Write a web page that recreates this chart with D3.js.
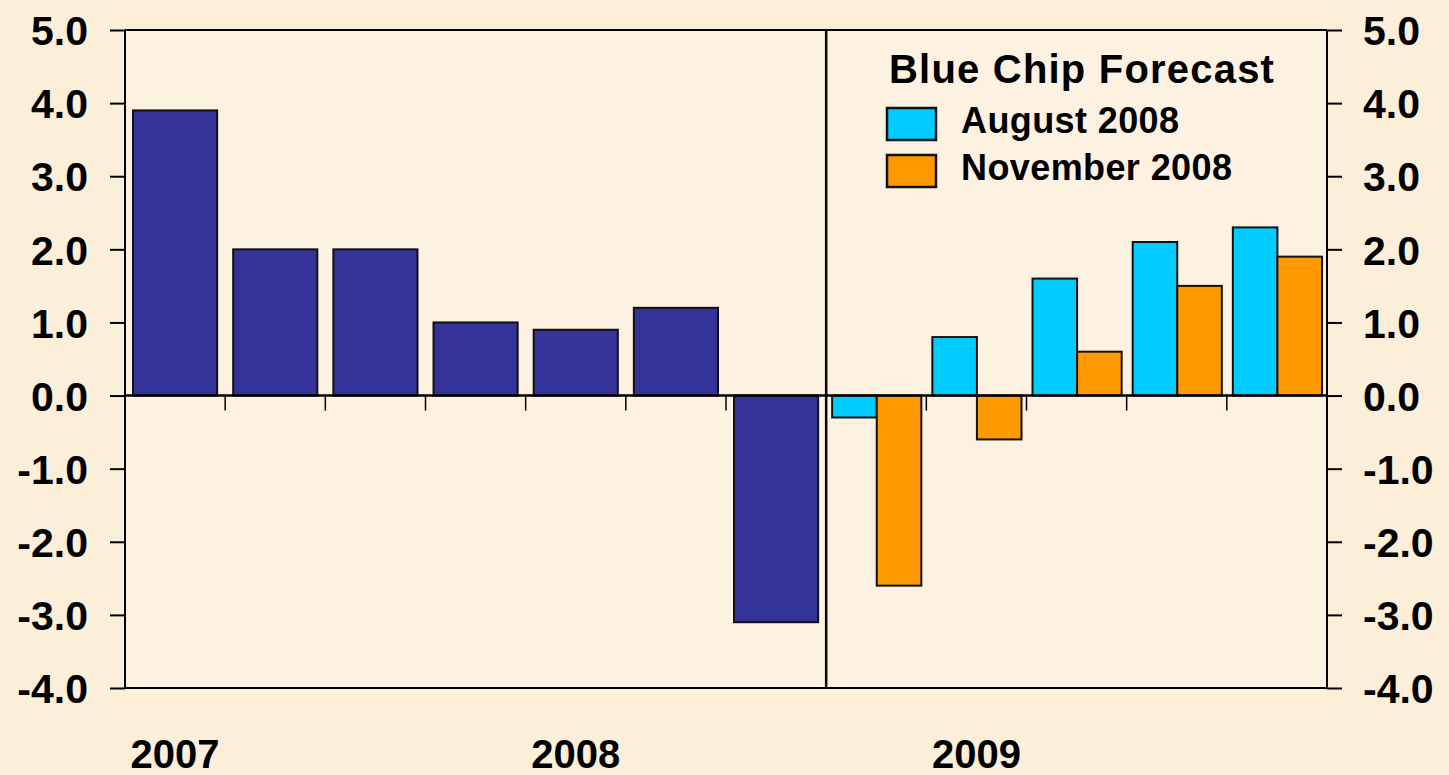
<!DOCTYPE html>
<html>
<head>
<meta charset="utf-8">
<script src="https://cdn.jsdelivr.net/npm/d3@7"></script>
<style>
  html, body { margin: 0; padding: 0; background: #FBEFD9; }
  svg { display: block; }
  text { font-family: "Liberation Sans", Arial, sans-serif; font-weight: bold; fill: #000; }
</style>
</head>
<body>
<svg id="chart" width="1449" height="775"></svg>
<script>
// Real GDP growth by quarter, actual and Blue Chip consensus forecasts
const quarters = ["2007Q1","2007Q2","2007Q3","2007Q4","2008Q1","2008Q2","2008Q3","2008Q4","2009Q1","2009Q2","2009Q3","2009Q4"];
const actualQuarters = ["2007Q1","2007Q2","2007Q3","2007Q4","2008Q1","2008Q2","2008Q3"];
const actualValues = [3.9, 2.0, 2.0, 1.0, 0.9, 1.2, -3.1];
const forecastQuarters = ["2008Q4","2009Q1","2009Q2","2009Q3","2009Q4"];
const august2008 = [-0.3, 0.8, 1.6, 2.1, 2.3];
const november2008 = [-2.6, -0.6, 0.6, 1.5, 1.9];
const yTicks = [5, 4, 3, 2, 1, 0, -1, -2, -3, -4];
const yearLabels = [{q: "2007Q1", label: "2007"}, {q: "2008Q1", label: "2008"}, {q: "2009Q1", label: "2009"}];
const legendTitle = "Blue Chip Forecast";
const seriesNames = ["August 2008", "November 2008"];
const seriesColors = ["#00CCFF", "#FF9900"];
const actualColor = "#333399";

const svg = d3.select("#chart");
const plotL = 125, plotR = 1327, plotT = 30, plotB = 688;

const x = d3.scaleBand().domain(quarters).range([plotL, plotR]).padding(0);
const xBar = d3.scaleBand().domain(quarters).range([plotL, plotR]).paddingInner(0.16).paddingOuter(0.08);
const step = x.step();
const xSub = d3.scaleBand().domain(seriesNames).range([step * 0.06, step * 0.95]).padding(0);
const y = d3.scaleLinear().domain([-4, 5]).range([plotB, plotT]);

// one decimal, plain hyphen for negatives
const fmt = d => d.toFixed(1);

// plot area fill
svg.append("rect").attr("x", plotL).attr("y", plotT).attr("width", plotR - plotL).attr("height", plotB - plotT)
  .attr("fill", "#FDF2E1");

// actual bars
svg.append("g").selectAll("rect").data(actualQuarters).join("rect")
  .attr("x", q => xBar(q))
  .attr("width", xBar.bandwidth())
  .attr("y", (q, i) => y(Math.max(0, actualValues[i])))
  .attr("height", (q, i) => Math.abs(y(actualValues[i]) - y(0)))
  .attr("fill", actualColor).attr("stroke", "#111").attr("stroke-width", 2);

// forecast bars
const fc = [august2008, november2008];
seriesNames.forEach((name, s) => {
  svg.append("g").selectAll("rect").data(forecastQuarters).join("rect")
    .attr("x", q => x(q) + xSub(name))
    .attr("width", xSub.bandwidth())
    .attr("y", (q, i) => y(Math.max(0, fc[s][i])))
    .attr("height", (q, i) => Math.abs(y(fc[s][i]) - y(0)))
    .attr("fill", seriesColors[s]).attr("stroke", "#111").attr("stroke-width", 2);
});

// zero line with category ticks
svg.append("line").attr("x1", plotL).attr("x2", plotR).attr("y1", y(0)).attr("y2", y(0))
  .attr("stroke", "#000").attr("stroke-width", 2.5);
svg.append("g").selectAll("line").data(quarters.slice(1)).join("line")
  .attr("x1", q => x(q)).attr("x2", q => x(q))
  .attr("y1", y(0)).attr("y2", y(0) + 15)
  .attr("stroke", "#000").attr("stroke-width", 1.5);

// divider between actual and forecast
svg.append("line").attr("x1", x("2008Q4")).attr("x2", x("2008Q4"))
  .attr("y1", plotT).attr("y2", plotB).attr("stroke", "#000").attr("stroke-width", 2.5);

// left and right axes
const leftAxis = d3.axisLeft(y).tickValues(yTicks).tickSize(15).tickFormat(fmt);
const rightAxis = d3.axisRight(y).tickValues(yTicks).tickSize(15).tickFormat(fmt);
const gl = svg.append("g").attr("transform", `translate(${plotL},0)`).call(leftAxis);
const gr = svg.append("g").attr("transform", `translate(${plotR},0)`).call(rightAxis);
[gl, gr].forEach(g => {
  g.select(".domain").remove();
  g.selectAll(".tick line").attr("stroke", "#000").attr("stroke-width", 2);
  g.selectAll(".tick text").attr("font-size", 41).attr("font-family", "Liberation Sans, Arial, sans-serif")
    .attr("font-weight", "bold").attr("fill", "#000").attr("dy", "0.36em");
});
gl.selectAll(".tick text").attr("x", -37);
gr.selectAll(".tick text").attr("x", 36);

svg.append("line").attr("x1", plotL).attr("x2", plotL).attr("y1", plotT).attr("y2", plotB).attr("stroke", "#000").attr("stroke-width", 2);
svg.append("line").attr("x1", plotR).attr("x2", plotR).attr("y1", plotT).attr("y2", plotB).attr("stroke", "#000").attr("stroke-width", 2);
svg.append("line").attr("x1", plotL).attr("x2", plotR).attr("y1", plotT).attr("y2", plotT).attr("stroke", "#000").attr("stroke-width", 2);
svg.append("line").attr("x1", plotL).attr("x2", plotR).attr("y1", plotB).attr("y2", plotB).attr("stroke", "#000").attr("stroke-width", 2);

// year labels
svg.append("g").selectAll("text").data(yearLabels).join("text")
  .attr("x", d => x(d.q) + step / 2).attr("y", 768)
  .attr("text-anchor", "middle").attr("font-size", 40).text(d => d.label);

// legend
const lg = svg.append("g");
lg.append("text").attr("x", 889).attr("y", 83).attr("font-size", 40).attr("letter-spacing", 1.2).text(legendTitle);
seriesNames.forEach((name, s) => {
  const yy = 108 + s * 47;
  lg.append("rect").attr("x", 887).attr("y", yy).attr("width", 49).attr("height", 32)
    .attr("fill", seriesColors[s]).attr("stroke", "#111").attr("stroke-width", 2.5);
  lg.append("text").attr("x", 961).attr("y", yy + 25).attr("font-size", 36).attr("letter-spacing", 0.4).text(name);
});
</script>
</body>
</html>
